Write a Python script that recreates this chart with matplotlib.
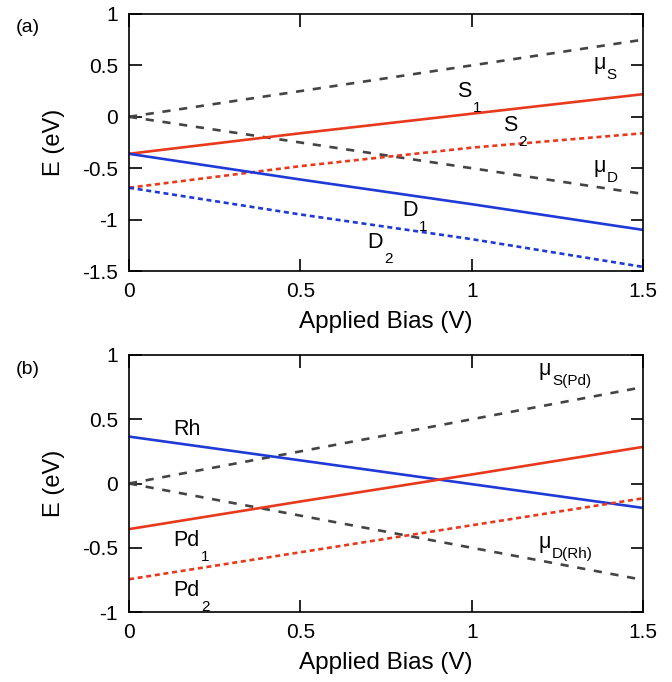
import numpy as np
import matplotlib
matplotlib.use("Agg")
import matplotlib.pyplot as plt

plt.rcParams['font.family'] = ['Liberation Sans', 'DejaVu Sans']

# bias points (V)
bias = [0.0, 0.5, 1.0, 1.5]

# panel (a) levels (eV)
mu_s_a = [0.0, 0.25, 0.5, 0.75]
mu_d_a = [0.0, -0.25, -0.5, -0.75]
s1 = [-0.36, -0.16, 0.03, 0.22]
s2 = [-0.69, -0.48, -0.30, -0.16]
d1 = [-0.36, -0.61, -0.85, -1.10]
d2 = [-0.69, -0.95, -1.19, -1.46]

# panel (b) levels (eV)
mu_s_b = [0.0, 0.25, 0.5, 0.75]
mu_d_b = [0.0, -0.25, -0.5, -0.75]
rh = [0.365, 0.18, -0.005, -0.19]
pd1 = [-0.355, -0.14, 0.07, 0.285]
pd2 = [-0.745, -0.535, -0.325, -0.115]

red = '#e8391d'
blue = '#1f3ad6'
gray = '#444444'
lw = 1.9
dash = (0, (3.1, 3.3))
dot = (0, (1.9, 1.4))


def level_label(ax, x, y, main, sub=None, dy=0.8, size=15.5, subsize=11):
    # main letter on the baseline, subscript hung off its lower right corner
    t = ax.text(x, y, main, fontsize=size, va='baseline', ha='left')
    if sub:
        ax.annotate(sub, xy=(1, 0), xycoords=t, xytext=(1, dy),
                    textcoords='offset points', fontsize=subsize,
                    va='top', ha='left')


fig = plt.figure(figsize=(6.72, 6.82), dpi=100)
ax1 = fig.add_axes([0.192, 0.6026, 0.765, 0.3769])
ax2 = fig.add_axes([0.192, 0.1026, 0.765, 0.3769])

ax1.plot(bias, mu_s_a, color=gray, lw=lw, ls=dash)
ax1.plot(bias, mu_d_a, color=gray, lw=lw, ls=dash)
ax1.plot(bias, s1, color=red, lw=lw)
ax1.plot(bias, s2, color=red, lw=lw, ls=dot)
ax1.plot(bias, d1, color=blue, lw=lw)
ax1.plot(bias, d2, color=blue, lw=lw, ls=dot)
ax1.set_ylim(-1.5, 1)
ax1.set_yticks([-1.5, -1, -0.5, 0, 0.5, 1])
ax1.set_yticklabels(['-1.5', '-1', '-0.5', '0', '0.5', '1'])

level_label(ax1, 1.354, 0.464, '\u03bc', 'S', dy=4.5)
level_label(ax1, 0.957, 0.19, 'S', '1')
level_label(ax1, 1.091, -0.139, 'S', '2')
level_label(ax1, 1.354, -0.54, '\u03bc', 'D', dy=4.5)
level_label(ax1, 0.796, -0.963, 'D', '1')
level_label(ax1, 0.694, -1.28, 'D', '2')

ax2.plot(bias, mu_s_b, color=gray, lw=lw, ls=dash)
ax2.plot(bias, mu_d_b, color=gray, lw=lw, ls=dash)
ax2.plot(bias, rh, color=blue, lw=lw)
ax2.plot(bias, pd1, color=red, lw=lw)
ax2.plot(bias, pd2, color=red, lw=lw, ls=dot)
ax2.set_ylim(-1, 1)
ax2.set_yticks([-1, -0.5, 0, 0.5, 1])
ax2.set_yticklabels(['-1', '-0.5', '0', '0.5', '1'])

level_label(ax2, 0.129, 0.379, 'Rh')
level_label(ax2, 0.129, -0.49, 'Pd', '1')
level_label(ax2, 0.129, -0.874, 'Pd', '2')
level_label(ax2, 1.194, 0.846, '\u03bc', 'S(Pd)', dy=4.5)
level_label(ax2, 1.194, -0.503, '\u03bc', 'D(Rh)', dy=4.5)

for ax in (ax1, ax2):
    ax.set_xlim(0, 1.5)
    ax.set_xticks([0, 0.5, 1, 1.5])
    ax.set_xticklabels(['0', '0.5', '1', '1.5'])
    ax.tick_params(direction='in', length=9, width=1.2, top=True, right=True,
                   labelsize=15, pad=8)
    for sp in ax.spines.values():
        sp.set_linewidth(1.2)
    ax.set_xlabel('Applied Bias (V)', fontsize=17.5, labelpad=7)
    ax.set_ylabel('E (eV)', fontsize=17, labelpad=12)

fig.text(0.024, 0.959, '(a)', fontsize=14, va='center')
fig.text(0.024, 0.458, '(b)', fontsize=14, va='center')

fig.savefig('out.png', dpi=100)
